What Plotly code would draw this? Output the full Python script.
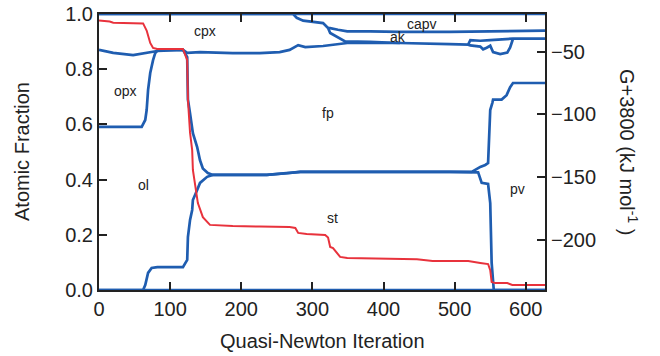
import plotly.graph_objects as go

# Cumulative phase-fraction boundaries (atomic fraction) vs. quasi-Newton iteration
iter_max = 627

base_x = [0, iter_max]
base_y = [0.0, 0.0]
top_x = [0, iter_max]
top_y = [1.0, 1.0]

# st / ol boundary, later the lower edge of pv
st_top_x = [0, 62, 65, 67, 69, 74, 82, 118, 124, 125, 128, 131, 132, 138, 142, 152, 160,
            236, 268, 283, 493, 524, 533, 538, 547, 550, 552, 555, iter_max]
st_top_y = [0.0, 0.0, 0.018, 0.036, 0.062, 0.080, 0.083, 0.083, 0.109, 0.192, 0.254, 0.290, 0.326,
            0.362, 0.388, 0.410, 0.417, 0.417, 0.424, 0.428, 0.428, 0.428, 0.426, 0.388, 0.384,
            0.315, 0.098, 0.0, 0.0]

# ol / opx boundary, later fp lower edge and pv upper edge
ol_top_x = [0, 60, 65, 67, 69, 72, 76, 79, 83, 118, 124, 125, 128, 132, 138, 142, 146, 153, 160,
            236, 268, 283, 493, 524, 536, 543, 547, 550, 553, 554, 566, 573, 578, 582, iter_max]
ol_top_y = [0.591, 0.591, 0.616, 0.652, 0.725, 0.786, 0.833, 0.858, 0.870, 0.870, 0.844, 0.690,
            0.640, 0.568, 0.518, 0.470, 0.440, 0.424, 0.417, 0.417, 0.424, 0.428, 0.428, 0.428,
            0.446, 0.453, 0.460, 0.652, 0.678, 0.690, 0.690, 0.706, 0.735, 0.750, 0.750]

# lower edge of cpx
cpx_bot_x = [0, 20, 48, 67, 82, 118, 124, 142, 188, 226, 254, 268, 273, 280, 290, 315, 349,
             423, 493, 519, 522, 536, 550, 582, iter_max]
cpx_bot_y = [0.870, 0.859, 0.851, 0.859, 0.866, 0.870, 0.859, 0.862, 0.858, 0.858, 0.862, 0.870,
             0.876, 0.887, 0.880, 0.884, 0.895, 0.895, 0.891, 0.889, 0.905, 0.903, 0.905, 0.911,
             0.911]

# lower branch near the end of the run
loop_x = [519, 522, 536, 540, 545, 550, 554, 564, 574, 578, 581, 582]
loop_y = [0.889, 0.886, 0.882, 0.872, 0.878, 0.885, 0.862, 0.855, 0.860, 0.879, 0.902, 0.911]

# upper edge of cpx
cpx_top_x = [0, 273, 278, 287, 315, 322, 325, 332, 346, 381, 423]
cpx_top_y = [1.0, 1.0, 0.986, 0.976, 0.967, 0.949, 0.931, 0.920, 0.901, 0.899, 0.895]

# capv / ak boundary
capv_x = [322, 325, 336, 349, 381, 423, 493, iter_max]
capv_y = [0.949, 0.949, 0.943, 0.937, 0.937, 0.935, 0.935, 0.940]

# Gibbs energy, G + 3800 (kJ/mol), right axis
g_x = [0, 15, 20, 62, 67, 72, 76, 82, 118, 124, 125, 128, 131, 132, 139, 146, 156, 188, 226,
       268, 276, 280, 292, 318, 322, 325, 329, 335, 339, 349, 447, 469, 519, 536, 547, 550,
       552, 557, 574, 581, iter_max]
g_y = [-25.1, -26.0, -27.0, -27.5, -33.2, -43.1, -47.1, -47.9, -47.9, -56.7, -88.2, -114.6,
       -128.5, -144.3, -170.7, -181.9, -188.1, -189.0, -189.4, -189.8, -190.5, -194.5, -195.3,
       -196.2, -198.2, -205.7, -206.6, -210.5, -213.6, -214.5, -215.4, -216.9, -216.9, -218.4,
       -219.3, -224.2, -233.6, -234.5, -234.5, -236.0, -236.0]

phase_names = ["cpx", "opx", "ol", "fp", "st", "pv", "capv", "ak", "cf"]
phase_x = [149, 37, 63, 322, 328, 589, 454, 420, 638]
phase_y = [0.94, 0.72, 0.38, 0.64, 0.26, 0.365, 0.965, 0.915, 0.925]

x_ticks = [0, 100, 200, 300, 400, 500, 600]
y_ticks = [0.0, 0.2, 0.4, 0.6, 0.8, 1.0]
g_ticks = [-50, -100, -150, -200]

BLUE = "#1f5db0"
RED = "#e8323c"
FONT = "Liberation Sans, Arial, sans-serif"
INK = "#222222"

fig = go.Figure()

for xs, ys in [(base_x, base_y), (top_x, top_y), (st_top_x, st_top_y), (ol_top_x, ol_top_y),
               (cpx_bot_x, cpx_bot_y), (loop_x, loop_y), (cpx_top_x, cpx_top_y), (capv_x, capv_y)]:
    fig.add_trace(go.Scatter(x=xs, y=ys, mode="lines", line=dict(color=BLUE, width=2.7),
                             hoverinfo="skip", showlegend=False, cliponaxis=False))

fig.add_trace(go.Scatter(x=g_x, y=g_y, yaxis="y2", mode="lines",
                         line=dict(color=RED, width=2), showlegend=False))

for name, px_, py_ in zip(phase_names, phase_x, phase_y):
    fig.add_annotation(x=px_, y=py_, xref="x", yref="y", text=name, showarrow=False,
                       font=dict(family=FONT, size=14, color=INK))

# axis titles
title_font = dict(family=FONT, size=20, color=INK)
fig.add_annotation(x=0.5, y=0, xref="paper", yref="paper", xanchor="center", yanchor="middle",
                   yshift=-51, text="Quasi-Newton Iteration", showarrow=False, font=title_font)
fig.add_annotation(x=0, y=0.5, xref="paper", yref="paper", xanchor="center", yanchor="middle",
                   xshift=-77, text="Atomic Fraction", textangle=-90, showarrow=False,
                   font=title_font)
fig.add_annotation(x=1.0, y=0.5, xref="paper", yref="paper", xanchor="center", yanchor="middle",
                   xshift=84, text="G+3800 (kJ mol<sup>-1</sup> )", textangle=90,
                   showarrow=False, font=title_font)

axis_common = dict(ticks="inside", ticklen=8, tickwidth=1.5, tickcolor=INK,
                   showline=True, linecolor=INK, linewidth=2,
                   showgrid=False, zeroline=False, automargin=False,
                   tickfont=dict(family=FONT, size=20, color=INK))

fig.update_layout(
    width=660, height=356,
    margin=dict(l=99, r=115, t=14, b=66),
    paper_bgcolor="white", plot_bgcolor="white",
    font=dict(family=FONT, size=20, color=INK),
    xaxis=dict(range=[0, iter_max], tickvals=x_ticks, mirror="ticks", **axis_common),
    yaxis=dict(range=[0, 1.0], tickvals=y_ticks, tickformat=".1f", **axis_common),
    yaxis2=dict(range=[-240, -20], tickvals=g_ticks, overlaying="y", side="right",
                **axis_common),
)

fig.write_html("out.html")
